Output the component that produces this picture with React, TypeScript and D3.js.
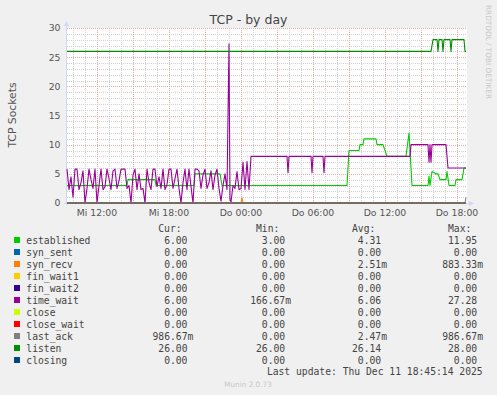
import React from "react";
import * as d3 from "d3";

const W = 497;
const H = 395;
const plot = { left: 67, right: 467, top: 28, bottom: 203 };

// time in minutes since Mi 09:30 (5 min per pixel)
const timeSpan = 2000;
const tickMinutes = [150, 510, 870, 1230, 1590, 1950];
const tickLabels = ["Mi 12:00", "Mi 18:00", "Do 00:00", "Do 06:00", "Do 12:00", "Do 18:00"];
const yTicks = [0, 5, 10, 15, 20, 25, 30];

// time_wait, 10 min samples from Mi 09:30 to Mi 22:50
const timeWaitSamples = [
  5.8, 2.3, 4.5, 1.0, 5.8, 5.8, 2.3, 3.5, 5.5, 0,
  2.5, 5.8, 4, 2.5, 5.8, 0, 3, 5.8, 2.3, 2.8,
  5.8, 4.2, 2.3, 5.5, 5.8, 2.5, 3.8, 5.8, 5.8, 5.8,
  2.5, 3, 0, 4.8, 5.8, 2.3, 5, 2.3, 2.5, 0,
  5.8, 3.5, 2.3, 5.8, 5.8, 2.8, 4.5, 2.5, 5.8, 2.3,
  3.2, 5.8, 5.8, 2.5, 4.2, 5.8, 2.5, 0, 3.5, 5.8,
  2.3, 5.8, 2.8, 0, 5.8, 5.8, 5.5, 2.5, 4.8, 5.8,
  2.5, 3.5, 5.5, 2.3, 4.8, 5.8, 2.5, 0.3, 3, 5,
  2.3,
];
const timeWaitTail: [number, number][] = [
  [810, 27.3], [815, 0.5], [820, 0.2], [830, 3], [840, 2.5], [850, 5.4],
  [860, 2.3], [870, 2.5], [880, 7], [890, 2.3], [900, 7.1], [910, 2.3],
  [920, 8], [1100, 8], [1105, 5.2], [1110, 8], [1220, 8], [1225, 5.2],
  [1230, 8], [1280, 8], [1285, 5.2], [1290, 8], [1715, 8], [1720, 10],
  [1805, 10], [1810, 7], [1815, 10], [1820, 7], [1825, 10], [1895, 10],
  [1905, 6], [1995, 6],
];

const established: [number, number][] = [
  [0, 3], [300, 3], [305, 4], [440, 4], [445, 3], [635, 3], [640, 5],
  [765, 5], [775, 3], [1400, 3], [1410, 9], [1460, 9], [1465, 10],
  [1480, 10], [1485, 11], [1545, 11], [1550, 10], [1580, 10], [1600, 8],
  [1695, 8], [1710, 12], [1725, 3], [1805, 3], [1810, 4.6], [1815, 3],
  [1825, 5.4], [1845, 5], [1855, 5], [1865, 4], [1895, 4], [1900, 5.4],
  [1910, 3], [1940, 3], [1945, 4], [1975, 4], [1985, 6], [1995, 6],
];

const listen: [number, number][] = [
  [0, 26], [1820, 26], [1830, 28], [1850, 28], [1855, 26], [1860, 28],
  [1875, 28], [1880, 26], [1885, 28], [1915, 28], [1920, 26], [1925, 28],
  [1985, 28], [1990, 26], [1995, 26],
];

const synRecv: [number, number][] = [[0, 0], [870, 0], [875, 0.88], [880, 0], [1995, 0]];
const lastAck: [number, number][] = [[0, 0], [1990, 0], [1995, 0.99]];
const flatZero: [number, number][] = [[0, 0], [1995, 0]];

const legendNames = [
  "established", "syn_sent", "syn_recv", "fin_wait1", "fin_wait2", "time_wait",
  "close", "close_wait", "last_ack", "listen", "closing",
];
const legendColors = [
  "#00CC00", "#0066B3", "#FF8000", "#FFCC00", "#330099", "#990099",
  "#CCFF00", "#FF0000", "#808080", "#008F00", "#00487D",
];
const curValues = ["6.00", "0.00", "0.00", "0.00", "0.00", "6.00", "0.00", "0.00", "986.67m", "26.00", "0.00"];
const minValues = ["3.00", "0.00", "0.00", "0.00", "0.00", "166.67m", "0.00", "0.00", "0.00", "26.00", "0.00"];
const avgValues = ["4.31", "0.00", "2.51m", "0.00", "0.00", "6.06", "0.00", "0.00", "2.47m", "26.14", "0.00"];
const maxValues = ["11.95", "0.00", "883.33m", "0.00", "0.00", "27.28", "0.00", "0.00", "986.67m", "28.00", "0.00"];
const columnHeads = ["Cur:", "Min:", "Avg:", "Max:"];

const timeWait: [number, number][] = [
  ...timeWaitSamples.map((v, i) => [i * 10, v] as [number, number]),
  ...timeWaitTail,
];

// drawing order as in the legend
const seriesData: [number, number][][] = [
  established, flatZero, synRecv, flatZero, flatZero, timeWait,
  flatZero, flatZero, lastAck, listen, flatZero,
];

export default function App() {
  const x = d3.scaleLinear().domain([0, timeSpan]).range([plot.left, plot.right]);
  const y = d3.scaleLinear().domain([0, 30]).range([plot.bottom, plot.top]);
  const line = d3
    .line<[number, number]>()
    .x((d) => x(d[0]))
    .y((d) => y(d[1]));

  const minorX = d3.range(30, timeSpan, 60);
  const majorX = d3.range(150, timeSpan, 180);
  const minorY = d3.range(1, 30, 1).filter((v) => v % 5 !== 0);
  const majorY = yTicks.filter((v) => v > 0);

  const charW = 5.83;
  const colEnds = [193.3, 291, 387, 483];
  const cols = [curValues, minValues, avgValues, maxValues];
  const mono = "DejaVu Sans Mono, monospace";
  const sans = "DejaVu Sans, sans-serif";

  return (
    <div style={{ position: "absolute", left: 0, top: 0 }}>
      <svg width={W} height={H} style={{ display: "block" }}>
        <rect width={W} height={H} fill="#F0F0F0" />
        <rect
          x={plot.left}
          y={plot.top}
          width={plot.right - plot.left}
          height={plot.bottom - plot.top}
          fill="#FFFFFF"
        />

        {/* grid */}
        <g strokeWidth={1} strokeDasharray="1,1" fill="none">
          {minorX.map((m) => (
            <line key={"mx" + m} x1={Math.round(x(m)) + 0.5} x2={Math.round(x(m)) + 0.5}
              y1={plot.top} y2={plot.bottom} stroke="#D0D0D0" />
          ))}
          {minorY.map((v) => (
            <line key={"my" + v} x1={plot.left} x2={plot.right}
              y1={Math.round(y(v)) + 0.5} y2={Math.round(y(v)) + 0.5} stroke="#D0D0D0" />
          ))}
          {majorX.map((m) => (
            <line key={"Mx" + m} x1={Math.round(x(m)) + 0.5} x2={Math.round(x(m)) + 0.5}
              y1={plot.top} y2={plot.bottom} stroke="#EFA5A5" />
          ))}
          {majorY.map((v) => (
            <line key={"My" + v} x1={plot.left} x2={plot.right}
              y1={Math.round(y(v)) + 0.5} y2={Math.round(y(v)) + 0.5} stroke="#EFA5A5" />
          ))}
        </g>

        {/* axes */}
        <line x1={plot.left - 0.5} x2={plot.left - 0.5} y1={plot.bottom + 2} y2={plot.top - 4} stroke="#CFD6F8" />
        <line x1={plot.left - 3} x2={plot.right + 2} y1={plot.bottom + 0.5} y2={plot.bottom + 0.5} stroke="#CFD6F8" />
        <path d={`M${plot.left - 3},${plot.top - 2} L${plot.left - 0.5},${plot.top - 7} L${plot.left + 2},${plot.top - 2} Z`} fill="#CFD6F8" />
        <path d={`M${plot.right + 2},${plot.bottom - 2} L${plot.right + 7},${plot.bottom + 0.5} L${plot.right + 2},${plot.bottom + 3} Z`} fill="#CFD6F8" />

        {/* series */}
        <g fill="none" strokeWidth={1.1} strokeLinejoin="round">
          {seriesData.map((d, i) => (
            <path key={legendNames[i]} d={line(d) || ""} stroke={legendColors[i]}
              strokeOpacity={d === flatZero ? 0.55 : 1} />
          ))}
        </g>

        {/* title and labels */}
        <text x={248.5} y={24} textAnchor="middle" fontFamily={sans} fontSize={12.5} fill="#444">
          TCP - by day
        </text>
        <text transform="translate(15.5,115) rotate(-90)" textAnchor="middle" fontFamily={sans}
          fontSize={10.8} fill="#555">
          TCP Sockets
        </text>
        <text transform="translate(485.5,5) rotate(90)" fontFamily={sans} fontSize={7.3} fill="#C8C8C8">
          RRDTOOL / TOBI OETIKER
        </text>
        <g fontFamily={sans} fontSize={9.3} fill="#555">
          {yTicks.map((v) => (
            <text key={"yl" + v} x={60.5} y={y(v) + 3.4} textAnchor="end">{v}</text>
          ))}
          {tickMinutes.map((m, i) => (
            <text key={"xl" + m} x={x(m)} y={215.8} textAnchor="middle">{tickLabels[i]}</text>
          ))}
        </g>

        {/* legend */}
        <g fontFamily={mono} fontSize={9.7} fill="#444">
          {columnHeads.map((h, c) => (
            <text key={h} x={colEnds[c] - 2 * charW} y={231.8} textAnchor="end">{h}</text>
          ))}
          {legendNames.map((name, i) => {
            const cy = 240 + i * 12;
            return (
              <g key={name}>
                <rect x={14} y={cy - 3} width={6} height={6} fill={legendColors[i]} />
                <text x={26.3} y={cy + 3.5}>{name}</text>
                {cols.map((col, c) => {
                  const s = col[i];
                  const end = s.endsWith("m") ? colEnds[c] : colEnds[c] - charW;
                  return (
                    <text key={c} x={end} y={cy + 3.5} textAnchor="end">{s}</text>
                  );
                })}
              </g>
            );
          })}
          <text x={482.7} y={375.2} textAnchor="end">Last update: Thu Dec 11 18:45:14 2025</text>
        </g>
        <text x={248} y={387} textAnchor="middle" fontFamily={sans} fontSize={7.3} fill="#C8C8C8">
          Munin 2.0.73
        </text>
      </svg>
    </div>
  );
}
